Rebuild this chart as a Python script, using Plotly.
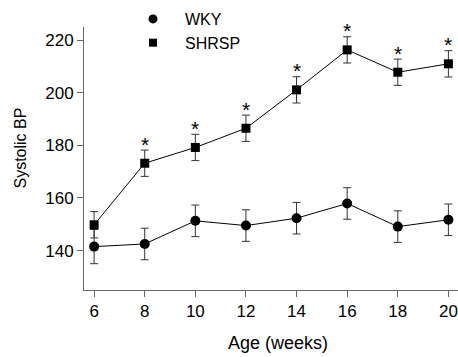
import plotly.graph_objects as go

ages = [6, 8, 10, 12, 14, 16, 18, 20]
wky_bp = [141.5, 142.5, 151.3, 149.5, 152.3, 157.9, 149.1, 151.7]
wky_err = [6.5, 6.0, 6.0, 6.0, 6.0, 6.0, 6.0, 6.0]
shrsp_bp = [149.8, 173.2, 179.2, 186.5, 201.1, 216.3, 207.8, 211.0]
shrsp_err = [5.0, 5.0, 5.0, 5.0, 5.0, 5.0, 5.0, 5.0]
significant = [False, True, True, True, True, True, True, True]
x_ticks = [6, 8, 10, 12, 14, 16, 18, 20]
y_ticks = [140, 160, 180, 200, 220]
x_title = "Age (weeks)"
y_title = "Systolic BP"

FONT = "Liberation Sans, Arial, sans-serif"
W, H = 458, 357
L, R, T, B = 84, 0, 27, 67
PW, PH = W - L - R, H - T - B
err_style = dict(type="data", thickness=1, width=4, color="#333333")

fig = go.Figure()
fig.add_trace(go.Scatter(
    x=ages, y=wky_bp, mode="lines+markers", name="WKY", showlegend=False,
    line=dict(color="black", width=1),
    marker=dict(symbol="circle", size=10, color="black"),
    error_y=dict(array=wky_err, **err_style),
))
fig.add_trace(go.Scatter(
    x=ages, y=shrsp_bp, mode="lines+markers", name="SHRSP", showlegend=False,
    line=dict(color="black", width=1),
    marker=dict(symbol="square", size=9, color="black"),
    error_y=dict(array=shrsp_err, **err_style),
))
# legend entries (markers only)
fig.add_trace(go.Scatter(x=[None], y=[None], mode="markers", name="WKY",
                         marker=dict(symbol="circle", size=9, color="black")))
fig.add_trace(go.Scatter(x=[None], y=[None], mode="markers", name="SHRSP",
                         marker=dict(symbol="square", size=8, color="black")))

for a, v, e, s in zip(ages, shrsp_bp, shrsp_err, significant):
    if s:
        fig.add_annotation(x=a, y=v + e, text="*", showarrow=False,
                           yanchor="middle", yshift=6,
                           font=dict(family=FONT, size=21, color="black"))

# axis titles
fig.add_annotation(xref="paper", yref="paper", x=(278 - L) / PW, y=(H - B - 343) / PH,
                   text=x_title, showarrow=False, xanchor="center", yanchor="middle",
                   font=dict(family=FONT, size=18, color="black"))
fig.add_annotation(xref="paper", yref="paper", x=(19.5 - L) / PW, y=(H - B - 148) / PH,
                   text=y_title, showarrow=False, textangle=-90,
                   xanchor="center", yanchor="middle",
                   font=dict(family=FONT, size=16, color="black"))

fig.update_layout(
    width=W, height=H,
    margin=dict(l=L, r=R, t=T, b=B, autoexpand=False),
    plot_bgcolor="white", paper_bgcolor="white",
    font=dict(family=FONT, size=17, color="black"),
    legend=dict(x=(121 - L) / PW, y=(H - B - 2) / PH,
                xanchor="left", yanchor="top", itemwidth=54,
                font=dict(family=FONT, size=16, color="black"),
                bgcolor="rgba(0,0,0,0)", tracegroupgap=0),
    xaxis=dict(range=[5.6, 20.38], tickvals=x_ticks, showgrid=False, zeroline=False,
               showline=True, linecolor="#666666", linewidth=1,
               ticks="outside", ticklen=6, tickcolor="#666666", tickangle=0,
               tickfont=dict(family=FONT, size=17, color="black")),
    yaxis=dict(range=[125, 225], tickvals=y_ticks, showgrid=False, zeroline=False,
               showline=True, linecolor="#666666", linewidth=1,
               ticks="outside", ticklen=6, tickcolor="#666666",
               tickfont=dict(family=FONT, size=17, color="black")),
)

fig.write_html("out.html")
